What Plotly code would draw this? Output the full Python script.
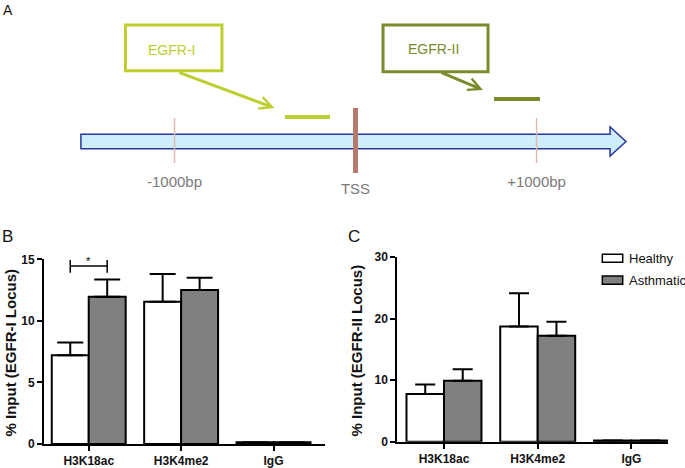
import plotly.graph_objects as go

# ---------------- data ----------------
categories = ["H3K18ac", "H3K4me2", "IgG"]
groups = ["Healthy", "Asthmatic"]

egfr1_healthy = [7.2, 11.55, 0.15]
egfr1_healthy_err = [1.05, 2.25, 0.0]
egfr1_asthmatic = [11.95, 12.5, 0.15]
egfr1_asthmatic_err = [1.4, 1.0, 0.0]

egfr2_healthy = [7.75, 18.7, 0.2]
egfr2_healthy_err = [1.55, 5.4, 0.0]
egfr2_asthmatic = [9.9, 17.2, 0.2]
egfr2_asthmatic_err = [1.85, 2.3, 0.0]

# significance bracket (panel B)
sig_category = 0          # index of category
sig_level = 14.45
sig_label = "*"

# diagram (panel A) in bp relative to TSS
diag_ticks_bp = [-1000, 0, 1000]
diag_tick_labels = ["-1000bp", "TSS", "+1000bp"]
gene_start_bp, gene_head_bp, gene_tip_bp = -1517, 1406, 1494
amplicon_names = ["EGFR-I", "EGFR-II"]
amplicon_start_bp = [-390, 765]
amplicon_end_bp = [-141, 1019]

W, H = 685, 468
FONT = "Liberation Sans, Arial, sans-serif"
LIME = "#bccf2e"
OLIVE = "#7b8b2c"
GRAY = "#808080"

def px(xp):
    return xp / W

def py(yp):
    return 1 - yp / H

fig = go.Figure()

healthy_colors = ["white", "white", "black"]
asth_colors = [GRAY, GRAY, "black"]

def add_bars(xa, ya, hv, he, av, ae, capw):
    fig.add_trace(go.Bar(
        x=categories, y=hv, name=groups[0], xaxis=xa, yaxis=ya,
        marker=dict(color=healthy_colors, line=dict(color="black", width=2)),
        error_y=dict(type="data", symmetric=False, array=he, arrayminus=[0] * len(he),
                     color="black", thickness=2, width=capw),
        showlegend=False))
    fig.add_trace(go.Bar(
        x=categories, y=av, name=groups[1], xaxis=xa, yaxis=ya,
        marker=dict(color=asth_colors, line=dict(color="black", width=2)),
        error_y=dict(type="data", symmetric=False, array=ae, arrayminus=[0] * len(ae),
                     color="black", thickness=2, width=capw),
        showlegend=False))

add_bars("x", "y", egfr1_healthy, egfr1_healthy_err, egfr1_asthmatic, egfr1_asthmatic_err, 13)
add_bars("x2", "y2", egfr2_healthy, egfr2_healthy_err, egfr2_asthmatic, egfr2_asthmatic_err, 10)

# diagram labels trace (panel A)
fig.add_trace(go.Scatter(
    x=diag_ticks_bp, y=[183, 190, 183], text=diag_tick_labels, mode="text",
    textfont=dict(family=FONT, size=15, color="#7a7a7a"),
    xaxis="x3", yaxis="y3", showlegend=False, hoverinfo="skip"))

axis_common = dict(showline=True, linecolor="black", linewidth=2, ticks="outside",
                   tickcolor="black", tickwidth=2, ticklen=5, showgrid=False, zeroline=False,
                   automargin=False,
                   tickfont=dict(family=FONT, size=12, color="#111", weight="bold"))

fig.update_layout(
    width=W, height=H, margin=dict(l=0, r=0, t=0, b=0, autoexpand=False),
    paper_bgcolor="white", plot_bgcolor="white",
    barmode="group", bargap=0.2, bargroupgap=0,
    xaxis=dict(domain=[px(44), px(325)], range=[-0.484, 2.557], type="category",
               anchor="y", **axis_common),
    yaxis=dict(domain=[py(444), py(259.3)], range=[0, 15], dtick=5, anchor="x",
               **axis_common),
    xaxis2=dict(domain=[px(397.3), px(668)], range=[-0.498, 2.39], type="category",
                anchor="y2", **axis_common),
    yaxis2=dict(domain=[py(441.7), py(257)], range=[0, 30], dtick=10, anchor="x2",
                **axis_common),
    xaxis3=dict(domain=[0, 1], range=[-1964, 1820], visible=False, anchor="y3",
                automargin=False),
    yaxis3=dict(domain=[py(200), 1], range=[200, 0], visible=False, anchor="x3",
                automargin=False),
)

shapes = []
# significance bracket
c = sig_category
shapes.append(dict(type="line", xref="x", yref="y", x0=c - 0.2, x1=c + 0.2,
                   y0=sig_level, y1=sig_level, line=dict(color="black", width=1.5)))
for dx in (-0.2, 0.2):
    shapes.append(dict(type="line", xref="x", yref="y", x0=c + dx, x1=c + dx,
                       y0=sig_level - 0.55, y1=sig_level + 0.5,
                       line=dict(color="black", width=1.5)))

# gene block arrow
path = (f"M{gene_start_bp},134.3 L{gene_head_bp},134.3 L{gene_head_bp},127 "
        f"L{gene_tip_bp},141.5 L{gene_head_bp},156 L{gene_head_bp},148.7 "
        f"L{gene_start_bp},148.7 Z")
shapes.append(dict(type="path", xref="x3", yref="y3", path=path,
                   fillcolor="#cdeefa", line=dict(color="#27369a", width=1.5)))
# +-1000 ticks and TSS
for bp in diag_ticks_bp:
    if bp == 0:
        shapes.append(dict(type="line", xref="x3", yref="y3", x0=bp, x1=bp, y0=108, y1=173,
                           line=dict(color="#b57a6c", width=5)))
    else:
        shapes.append(dict(type="line", xref="x3", yref="y3", x0=bp, x1=bp, y0=118, y1=163,
                           line=dict(color="#dfbab2", width=1.5)))
# amplicons
amp_y = [117, 99]
amp_col = [LIME, OLIVE]
for s, e, yy, col in zip(amplicon_start_bp, amplicon_end_bp, amp_y, amp_col):
    shapes.append(dict(type="line", xref="x3", yref="y3", x0=s, x1=e, y0=yy, y1=yy,
                       line=dict(color=col, width=4)))
# callout boxes
boxes = [(-1271, -738, 25, 70.7), (152, 732, 25, 71.7)]
for (x0, x1, y0, y1), col in zip(boxes, amp_col):
    shapes.append(dict(type="rect", xref="x3", yref="y3", x0=x0, x1=x1, y0=y0, y1=y1,
                       line=dict(color=col, width=3), fillcolor="white"))

# legend boxes (panel C)
leg_fill = ["white", GRAY]
leg_y = [(254.3, 262.3), (276, 284.3)]
for f, (y0, y1) in zip(leg_fill, leg_y):
    shapes.append(dict(type="rect", xref="paper", yref="paper", x0=px(602.3), x1=px(622.7),
                       y0=py(y1), y1=py(y0), line=dict(color="black", width=1.5), fillcolor=f))

fig.update_layout(shapes=shapes)

ann = []
ann.append(dict(x=c, y=sig_level + 0.45, xref="x", yref="y", text=sig_label, showarrow=False,
                xanchor="center", yanchor="middle",
                font=dict(family=FONT, size=11, color="black")))
# callout text + arrows
text_pos = [(-1017, 50), (428, 49)]
arrows = [((-981, 72), (-448, 108)), ((467, 72), (704, 90))]
for name, (tx, ty), ((ax0, ay0), (x1, y1)), col in zip(amplicon_names, text_pos, arrows, amp_col):
    ann.append(dict(x=tx, y=ty, xref="x3", yref="y3", text=name, showarrow=False,
                    xanchor="center", yanchor="middle",
                    font=dict(family=FONT, size=14, color=col)))
    ann.append(dict(x=x1, y=y1, xref="x3", yref="y3", ax=ax0, ay=ay0, axref="x3", ayref="y3",
                    text="", showarrow=True, arrowhead=5, arrowsize=0.8, arrowwidth=3,
                    arrowcolor=col, standoff=0, startstandoff=0))
# legend text
for g, (y0, y1) in zip(groups, leg_y):
    ann.append(dict(x=px(627), y=py((y0 + y1) / 2), xref="paper", yref="paper", text=g,
                    showarrow=False, xanchor="left", yanchor="middle",
                    font=dict(family=FONT, size=13, color="#111")))
# axis titles
ann.append(dict(x=px(10), y=py(353.5), xref="paper", yref="paper",
                text="% Input (EGFR-I Locus)", textangle=-90, showarrow=False,
                xanchor="center", yanchor="middle",
                font=dict(family=FONT, size=15, color="#111", weight="bold")))
ann.append(dict(x=px(355.5), y=py(351), xref="paper", yref="paper",
                text="% Input (EGFR-II Locus)", textangle=-90, showarrow=False,
                xanchor="center", yanchor="middle",
                font=dict(family=FONT, size=15, color="#111", weight="bold")))
# panel letters
for letter, (lx, ly), size in [("A", (8, 10), 14), ("B", (8, 236.5), 17), ("C", (354, 236), 17)]:
    ann.append(dict(x=px(lx), y=py(ly), xref="paper", yref="paper", text=letter,
                    showarrow=False, xanchor="center", yanchor="middle",
                    font=dict(family=FONT, size=size, color="#111")))

fig.update_layout(annotations=ann)

fig.write_html("out.html", config={"displayModeBar": False},
               post_script="document.body.style.margin='0';document.body.style.overflow='hidden';")
